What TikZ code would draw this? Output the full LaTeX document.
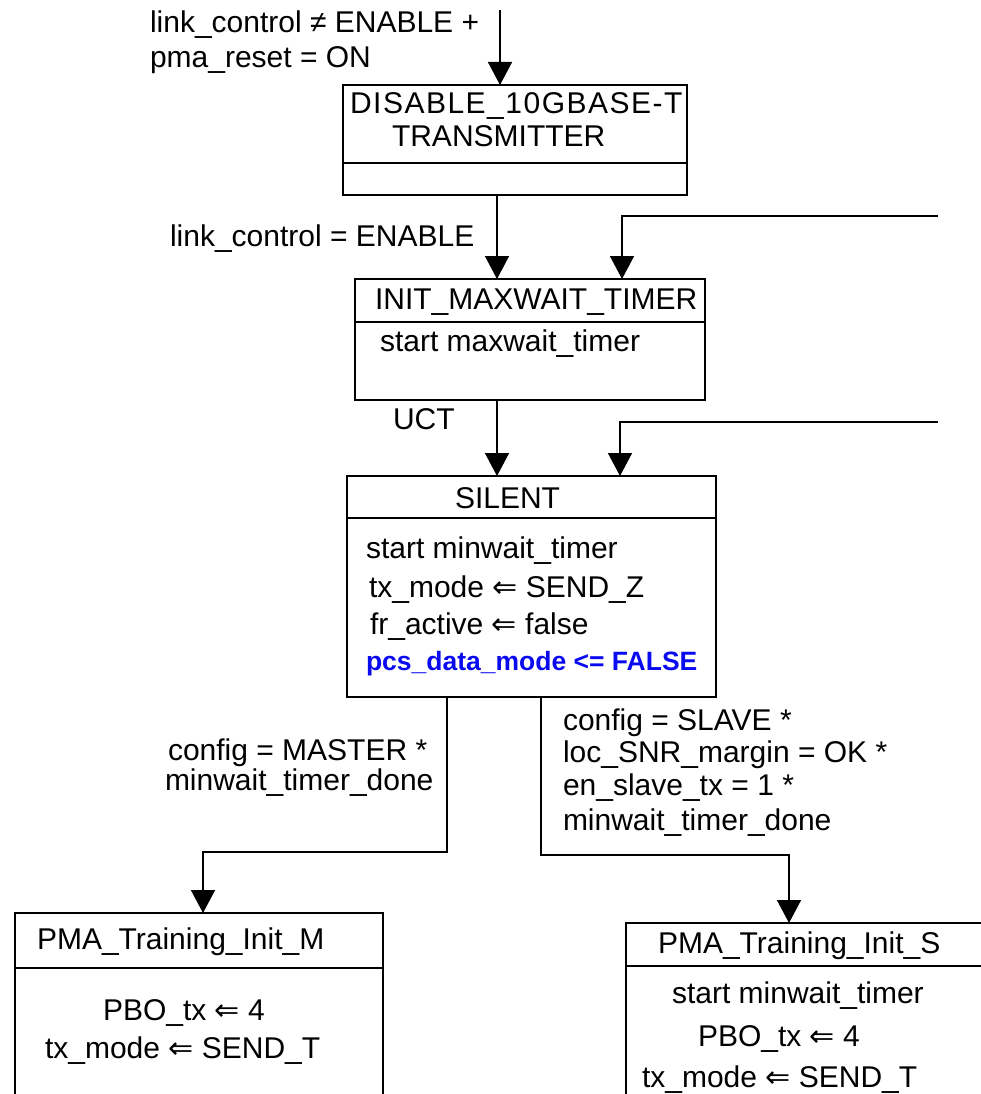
\documentclass[tikz,border=0pt]{standalone}
\usepackage{fontspec}
\setmainfont{Liberation Sans}
\newfontfamily\symf{DejaVu Sans}
\usetikzlibrary{arrows.meta}
\newcommand{\lar}{{\symf ⇐}}
\definecolor{pcsblue}{RGB}{10,10,240}
\begin{document}
\begin{tikzpicture}[x=1pt,y=-1pt,
  txt/.style={anchor=base west, inner sep=0pt, outer sep=0pt, font=\fontsize{30}{35}\selectfont},
  boldtxt/.style={anchor=base west, inner sep=0pt, outer sep=0pt, font=\fontsize{26.5}{31}\selectfont\bfseries, text=pcsblue},
  box/.style={draw, line width=1.6pt, anchor=north west, inner sep=0pt, outer sep=0pt},
  wire/.style={line width=1.6pt},
  arr/.style={line width=1.6pt, -{Triangle[width=24pt,length=23pt]}}]
\useasboundingbox (0,0) rectangle (980,1094);

% ---- state boxes ----
\node[box, minimum width=344pt, minimum height=110pt] (disable) at (343,85) {};
\draw[wire] (343,163) -- (687,163);
\node[box, minimum width=350pt, minimum height=121pt] (init) at (355,279) {};
\draw[wire] (355,322) -- (705,322);
\node[box, minimum width=369pt, minimum height=221pt] (silent) at (347,476) {};
\draw[wire] (347,518) -- (716,518);
\node[box, minimum width=368pt, minimum height=220pt] (pmam) at (15,913) {};
\draw[wire] (15,968) -- (383,968);
\node[box, minimum width=380pt, minimum height=220pt] (pmas) at (626,923) {};
\draw[wire] (626,966) -- (1006,966);

% ---- texts inside the boxes ----
\node[txt] (t1) at (350,114) {\addfontfeature{LetterSpace=5}DISABLE\_10GBASE-T};
\node[txt] (t2) at (392,147) {TRANSMITTER};
\node[txt] (t3) at (375,309) {INIT\_MAXWAIT\_TIMER};
\node[txt] (t4) at (380,351) {start maxwait\_timer};
\node[txt] (t5) at (455,508) {SILENT};
\node[txt] (t6) at (366,558) {start minwait\_timer};
\node[txt] (t7) at (369,597) {tx\_mode \lar{} SEND\_Z};
\node[txt] (t8) at (370,634) {fr\_active \lar{} false};
\node[boldtxt] (t9) at (366,670) {pcs\_data\_mode <= FALSE};
\node[txt] (t10) at (37,949) {PMA\_Training\_Init\_M};
\node[txt] (t11) at (103,1020) {PBO\_tx \lar{} 4};
\node[txt] (t12) at (45,1058) {tx\_mode \lar{} SEND\_T};
\node[txt] (t13) at (658,953) {PMA\_Training\_Init\_S};
\node[txt] (t14) at (672,1003) {start minwait\_timer};
\node[txt] (t15) at (698,1046) {PBO\_tx \lar{} 4};
\node[txt] (t16) at (642,1087) {tx\_mode \lar{} SEND\_T};

% ---- transition conditions ----
\node[txt] (c1) at (150,33) {link\_control ≠ ENABLE +};
\node[txt] (c2) at (150,68) {pma\_reset = ON};
\node[txt] (c3) at (170,246) {link\_control = ENABLE};
\node[txt] (c4) at (393,429) {UCT};
\node[txt] (c5) at (168,760) {config = MASTER *};
\node[txt] (c6) at (165,790) {minwait\_timer\_done};
\node[txt] (c7) at (563,730) {config = SLAVE *};
\node[txt] (c8) at (563,762) {loc\_SNR\_margin = OK *};
\node[txt] (c9) at (563,795) {en\_slave\_tx = 1 *};
\node[txt] (c10) at (563,830) {minwait\_timer\_done};

% ---- connectors ----
\coordinate (entry) at (500,10);
\coordinate (xa) at (497,0);
\coordinate (fb1) at (938,216);
\coordinate (fb1x) at (622,0);
\coordinate (fb2) at (938,422);
\coordinate (fb2x) at (620,0);
\coordinate (bL) at (447,852);
\coordinate (mL) at (203,852);
\coordinate (bR) at (541,855);
\coordinate (mR) at (789,855);

\draw[arr] (entry) -- (entry |- disable.north);
\draw[arr] (xa |- disable.south) -- (xa |- init.north);
\draw[arr] (fb1) -- (fb1x |- fb1) -- (fb1x |- init.north);
\draw[arr] (xa |- init.south) -- (xa |- silent.north);
\draw[arr] (fb2) -- (fb2x |- fb2) -- (fb2x |- silent.north);
\draw[arr] (bL |- silent.south) -- (bL) -- (mL) -- (mL |- pmam.north);
\draw[arr] (bR |- silent.south) -- (bR) -- (mR) -- (mR |- pmas.north);
\end{tikzpicture}
\end{document}
